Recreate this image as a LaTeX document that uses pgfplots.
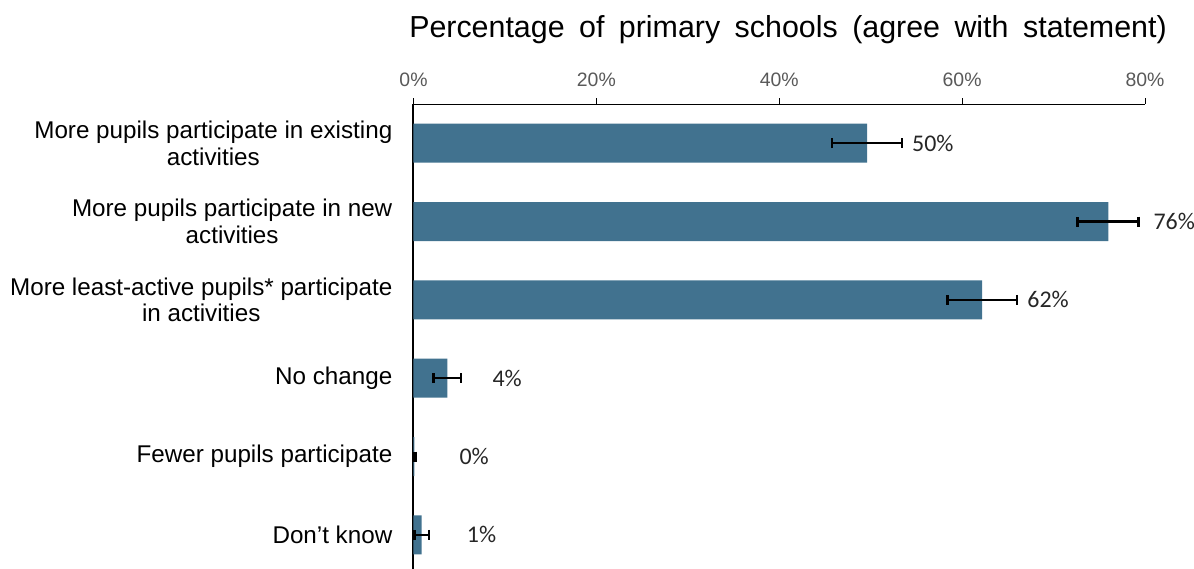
\documentclass[border=0pt]{standalone}
\usepackage{pgfplots}
\pgfplotsset{compat=1.18}
\usepackage{pgfplotstable}
\usepackage{fontspec}
\setmainfont{Liberation Sans}
\newfontfamily\calibri{Carlito}
\definecolor{barblue}{RGB}{65,114,143}
\definecolor{tickgray}{RGB}{89,89,89}
\pgfplotstableread{
i v ep em lab
0 49.6 3.8 3.8 50
1 76.0 3.3 3.4 76
2 62.2 3.8 3.8 62
3 3.7 1.5 1.5 4
4 0.1 0.2 0.1 0
5 0.9 0.8 0.8 1
}\datatable
\begin{document}
\begin{tikzpicture}
\begin{axis}[
  at={(0,0)}, anchor=north west,
  scale only axis,
  width=731.5bp, height=470.1bp,
  xmin=0, xmax=80, ymin=-0.5, ymax=5.5,
  y dir=reverse,
  /pgf/number format/assume math mode=true,
  axis x line*=top, axis y line*=left,
  x axis line style={black, line width=1bp},
  y axis line style={black, line width=2bp},
  xtick={0,20,40,60,80},
  xticklabel={\pgfmathprintnumber{\tick}\%},
  xticklabel style={font=\fontsize{19.5}{22}\selectfont, text=tickgray, inner sep=0pt, anchor=base, yshift=12bp},
  tick align=outside,
  major tick length=6bp,
  xtick style={black, line width=1bp},
  ytick={0,1,2,3,4,5},
  yticklabels={{More pupils participate in existing\\activities},{More pupils participate in new\\activities},{More least-active pupils* participate\\in activities},{No change},{Fewer pupils participate},{Don’t know}},
  yticklabel style={font=\fontsize{24.3}{26.7}\selectfont, align=center, inner sep=0pt, anchor=east, xshift=-15bp},
  ytick style={draw=none},
  clip=false,
  xbar, bar width=39bp,
  point meta=explicit,
  nodes near coords={\pgfmathprintnumber[fixed,precision=0]{\pgfplotspointmeta}\%},
  nodes near coords style={font=\calibri\fontsize{24}{28}\selectfont, text=black!85, anchor=west, inner sep=0pt, xshift=45bp},
]
\addplot[fill=barblue, draw=none,
  error bars/.cd, x dir=both, x explicit,
  error bar style={black, line width=2.2bp},
  error mark=|,
  error mark options={black, line width=2.4bp, mark size=5bp}]
  table[x=v, y=i, x error plus=ep, x error minus=em, meta=lab] {\datatable};
\end{axis}
\node[anchor=base, font=\fontsize{30.5}{34}\selectfont] at (374.5bp, 66.7bp) {\spaceskip=14.5bp Percentage of primary schools (agree with statement)};
\pgfresetboundingbox
\useasboundingbox (-413.5bp,104bp) rectangle (780.5bp,-465bp);
\end{tikzpicture}
\end{document}
